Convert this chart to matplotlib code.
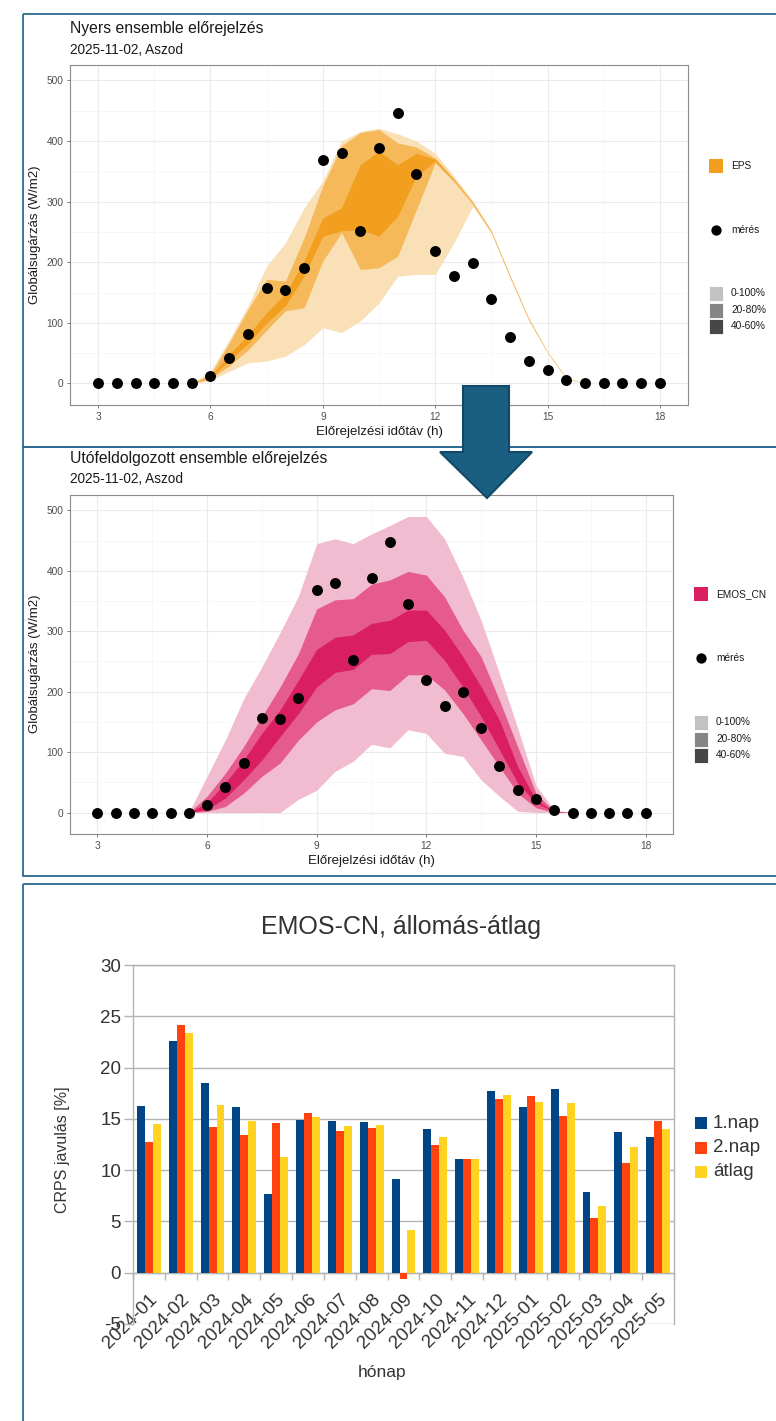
import matplotlib
matplotlib.use("Agg")
import matplotlib.pyplot as plt
from matplotlib.patches import Rectangle, Polygon

W, H = 776, 1421
plt.rcParams['font.family'] = ['Liberation Sans', 'DejaVu Sans']
plt.rcParams['axes.unicode_minus'] = False

# forecast lead times (h)
hours = [3, 3.5, 4, 4.5, 5, 5.5, 6, 6.5, 7, 7.5, 8, 8.5, 9, 9.5, 10, 10.5, 11,
         11.5, 12, 12.5, 13, 13.5, 14, 14.5, 15, 15.5, 16, 16.5, 17, 17.5, 18]
z6 = [0, 0, 0, 0, 0, 0]
z5 = [0, 0, 0, 0, 0]

# measurements
meres = z6 + [13, 42, 82, 157, 155, 190, 368, 380, 252, 388, 447, 345, 219, 177,
              199, 140, 77, 37, 22, 5] + z5

# raw ensemble quantiles
eps_q0 = z6 + [5, 20, 34, 37, 45, 64, 92, 84, 103, 133, 177, 180, 180, 232, 292,
               248, 174, 104, 50, 7] + z5
eps_q20 = z6 + [8, 29, 55, 88, 120, 125, 202, 249, 188, 191, 210, 287, 364, 333,
                296, 249, 175, 105, 51, 8] + z5
eps_q40 = z6 + [10, 38, 66, 100, 128, 178, 243, 252, 254, 243, 276, 342, 367, 335,
                297, 249, 175, 105, 51, 8] + z5
eps_q60 = z6 + [12, 48, 80, 117, 148, 203, 273, 290, 361, 383, 361, 380, 370, 336,
                298, 250, 176, 106, 51, 8] + z5
eps_q80 = z6 + [15, 67, 122, 172, 169, 240, 326, 392, 414, 419, 397, 390, 372, 338,
                299, 251, 177, 107, 52, 9] + z5
eps_q100 = z6 + [20, 72, 128, 194, 232, 290, 334, 400, 416, 421, 412, 400, 380, 342,
                 302, 253, 179, 108, 53, 10] + z5

# EMOS_CN quantiles
em_q0 = z6 + [0, 0, 0, 0, 0, 22, 37, 68, 85, 113, 107, 137, 131, 98, 93, 54, 27,
              2, 0, 0] + z5
em_q20 = z6 + [2, 10, 32, 60, 82, 120, 150, 170, 180, 205, 202, 228, 228, 203, 164,
               120, 76, 32, 8, 0] + z5
em_q40 = z6 + [5, 24, 54, 87, 126, 164, 208, 232, 237, 262, 263, 283, 285, 252, 208,
               159, 104, 49, 16, 1] + z5
em_q60 = z6 + [16, 49, 87, 131, 170, 219, 270, 290, 294, 313, 318, 335, 335, 302,
               258, 208, 153, 76, 21, 2] + z5
em_q80 = z6 + [27, 65, 109, 159, 208, 263, 337, 352, 354, 378, 385, 399, 393, 357,
               302, 258, 186, 109, 32, 2] + z5
em_q100 = z6 + [60, 120, 188, 241, 298, 358, 445, 453, 445, 461, 475, 490, 490, 453,
                390, 318, 230, 140, 45, 4] + z5

# monthly CRPS improvement
honap = ['2024-01', '2024-02', '2024-03', '2024-04', '2024-05', '2024-06',
         '2024-07', '2024-08', '2024-09', '2024-10', '2024-11', '2024-12',
         '2025-01', '2025-02', '2025-03', '2025-04', '2025-05']
nap1 = [16.3, 22.6, 18.45, 16.2, 7.7, 14.9, 14.75, 14.7, 9.1, 14.0, 11.1, 17.75,
        16.15, 17.9, 7.9, 13.75, 13.2]
nap2 = [12.7, 24.15, 14.25, 13.4, 14.6, 15.6, 13.85, 14.15, -0.65, 12.5, 11.1, 16.9,
        17.2, 15.25, 5.3, 10.7, 14.8]
atlag = [14.5, 23.4, 16.35, 14.8, 11.25, 15.2, 14.3, 14.4, 4.2, 13.25, 11.1, 17.3,
         16.65, 16.55, 6.55, 12.3, 14.05]

ORANGE = ['#FAE0B6', '#F5B95A', '#F29E1F']
PINK = ['#F2BCD0', '#E45B8C', '#D91E62']
GREYS = ['#C2C2C2', '#868686', '#474747']
FRAME = '#2C6A92'


def axes_px(fig, left, top, right, bottom):
    return fig.add_axes([left / W, 1 - bottom / H, (right - left) / W, (bottom - top) / H])


def gg_panel(ax, cols, q):
    ax.fill_between(hours, q[0], q[5], color=cols[0], lw=0, zorder=2)
    ax.fill_between(hours, q[1], q[4], color=cols[1], lw=0, zorder=3)
    ax.fill_between(hours, q[2], q[3], color=cols[2], lw=0, zorder=4)
    ax.scatter(hours, meres, s=62, color='black', zorder=5, linewidths=0)
    ax.set_xlim(2.25, 18.75)
    ax.set_ylim(-35.5, 525.5)
    ax.set_xticks([3, 6, 9, 12, 15, 18])
    ax.set_xticks([4.5, 7.5, 10.5, 13.5, 16.5], minor=True)
    ax.set_yticks([0, 100, 200, 300, 400, 500])
    ax.set_yticks([50, 150, 250, 350, 450], minor=True)
    ax.grid(which='major', color='#EBEBEB', lw=0.8, zorder=0)
    ax.grid(which='minor', color='#F4F4F4', lw=0.5, zorder=0)
    ax.set_axisbelow(True)
    ax.tick_params(which='major', length=2.2, width=0.5, color='#444444',
                   labelsize=7.3, labelcolor='#4D4D4D', pad=2.5)
    ax.tick_params(which='minor', length=0)
    for s in ax.spines.values():
        s.set_color('#8C8C8C')
        s.set_linewidth(0.8)


fig = plt.figure(figsize=(W / 100, H / 100), dpi=100)

ax1 = axes_px(fig, 70, 65, 688, 405)
gg_panel(ax1, ORANGE, [eps_q0, eps_q20, eps_q40, eps_q60, eps_q80, eps_q100])

ax2 = axes_px(fig, 70, 495, 673, 834)
gg_panel(ax2, PINK, [em_q0, em_q20, em_q40, em_q60, em_q80, em_q100])

# bar chart
ax3 = axes_px(fig, 133, 965, 674, 1324)
ax3.spines['bottom'].set_position(('data', 0))
xs = list(range(len(honap)))
bw = 0.25
ax3.bar([x - bw for x in xs], nap1, bw, color='#004586', label='1.nap', zorder=3)
ax3.bar(xs, nap2, bw, color='#FF420E', label='2.nap', zorder=3)
ax3.bar([x + bw for x in xs], atlag, bw, color='#FFD320', label='átlag', zorder=3)
ax3.set_xlim(-0.5, len(honap) - 0.5)
ax3.set_ylim(-5, 30)
ax3.set_yticks([-5, 0, 5, 10, 15, 20, 25, 30])
ax3.grid(axis='y', color='#B3B3B3', lw=1.0, zorder=0)
ax3.set_xticks(xs)
ax3.set_xticks([x - 0.5 for x in xs] + [len(honap) - 0.5], minor=True)
for s in ax3.spines.values():
    s.set_color('#B3B3B3')
    s.set_linewidth(1.0)
ax3.tick_params(axis='x', which='major', length=0, labelsize=13.5, labelcolor='#333333', pad=13)
ax3.tick_params(axis='x', which='minor', length=5, width=1.0, color='#B3B3B3', direction='out')
ax3.tick_params(axis='y', length=6.5, width=1.0, color='#B3B3B3', labelsize=13.5,
                labelcolor='#333333', pad=2)
ax3.set_xticklabels(honap, rotation=45, ha='right', va='top', rotation_mode='anchor')

# overlay for frames, arrow, titles and legends (pixel coordinates)
ov = fig.add_axes([0, 0, 1, 1])
ov.set_xlim(0, W)
ov.set_ylim(H, 0)
ov.axis('off')
ov.set_zorder(10)
ov.patch.set_alpha(0)

for top, bot in [(14, 447), (447, 876), (884, 1440)]:
    ov.add_patch(Rectangle((23, top), 800, bot - top, fill=False, ec=FRAME, lw=1.3))

ov.add_patch(Polygon([(463, 386), (509, 386), (509, 452), (532, 452), (487, 498),
                      (440, 452), (463, 452)], closed=True, fc='#1A5E82',
                     ec='#124968', lw=1.5))

txt = dict(color='#1A1A1A', va='center')
ov.text(70, 29, 'Nyers ensemble előrejelzés', fontsize=11.3, **txt)
ov.text(70, 50, '2025-11-02, Aszod', fontsize=9.8, **txt)
ov.text(379, 432, 'Előrejelzési időtáv (h)', fontsize=9.5, ha='center', **txt)
ov.text(35, 235, 'Globálsugárzás (W/m2)', fontsize=9.5, ha='center', rotation=90, **txt)

ov.text(70, 458, 'Utófeldolgozott ensemble előrejelzés', fontsize=11.3, **txt)
ov.text(70, 479, '2025-11-02, Aszod', fontsize=9.8, **txt)
ov.text(371, 861, 'Előrejelzési időtáv (h)', fontsize=9.5, ha='center', **txt)
ov.text(35, 664, 'Globálsugárzás (W/m2)', fontsize=9.5, ha='center', rotation=90, **txt)


def gg_legend(x0, name, col, y_key, y_dot, y_grey):
    ov.add_patch(Rectangle((x0, y_key - 7), 14, 14, fc=col, ec='none'))
    ov.text(x0 + 22, y_key, name, fontsize=7.3, **txt)
    ov.scatter([x0 + 7], [y_dot], s=55, color='black', linewidths=0)
    ov.text(x0 + 22, y_dot, 'mérés', fontsize=7.3, **txt)
    for g, lab, yy in zip(GREYS, ['0-100%', '20-80%', '40-60%'], y_grey):
        ov.add_patch(Rectangle((x0, yy - 7.5), 14, 15, fc=g, ec='white', lw=0.6))
        ov.text(x0 + 22, yy, lab, fontsize=7.3, **txt)


gg_legend(709, 'EPS', ORANGE[2], 166, 230, [293, 310, 326])
gg_legend(694, 'EMOS_CN', PINK[2], 594, 658, [722, 739, 755])

ov.text(401, 927, 'EMOS-CN, állomás-átlag', fontsize=18, ha='center', color='#333333', va='center')
ov.text(63, 1150, 'CRPS javulás [%]', fontsize=11.5, ha='center', rotation=90,
        color='#333333', va='center')
ov.text(382, 1372, 'hónap', fontsize=12.5, ha='center', color='#333333', va='center')
for col, lab, yy in zip(['#004586', '#FF420E', '#FFD320'], ['1.nap', '2.nap', 'átlag'],
                        [1123, 1148, 1172]):
    ov.add_patch(Rectangle((695, yy - 6), 12, 12, fc=col, ec='none'))
    ov.text(713, yy, lab, fontsize=13.5, color='#333333', va='center')

fig.savefig('out.png', dpi=100, facecolor='white')
